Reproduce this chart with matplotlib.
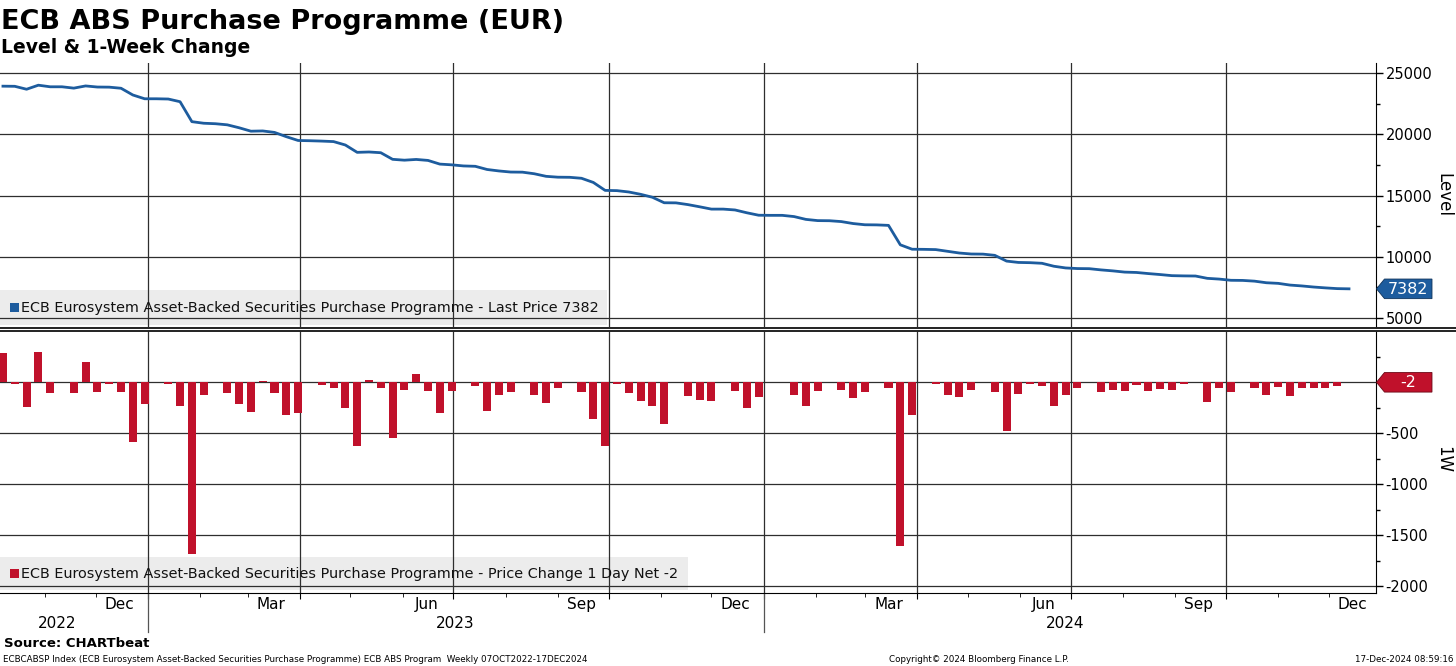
import numpy as np
import pandas as pd
import matplotlib
matplotlib.use("Agg")
import matplotlib.pyplot as plt
import matplotlib.dates as mdates
import matplotlib.transforms as mtransforms
from matplotlib.patches import Polygon, Rectangle
from matplotlib.lines import Line2D

plt.rcParams['font.family'] = ['DejaVu Sans']

# --- data (weekly, 07 Oct 2022 - Dec 2024) ---
week_dates = pd.date_range('2022-10-07', periods=115, freq='7D')

level = [
    23950, 23940, 23700, 24030, 23900, 23900, 23790, 23970, 23880, 23870,
    23780, 23230, 22920, 22920, 22900, 22680, 21050, 20920, 20880, 20790,
    20550, 20270, 20290, 20170, 19820, 19510, 19490, 19460, 19420, 19140,
    18540, 18570, 18510, 17970, 17900, 17960, 17880, 17580, 17520, 17430,
    17400, 17140, 17020, 16930, 16920, 16790, 16580, 16510, 16500, 16420,
    16080, 15430, 15410, 15300, 15110, 14870, 14420, 14410, 14270, 14090,
    13900, 13900, 13830, 13600, 13400, 13390, 13390, 13290, 13060, 12960,
    12950, 12880, 12720, 12620, 12610, 12570, 10980, 10620, 10610, 10590,
    10450, 10310, 10230, 10220, 10120, 9650, 9540, 9520, 9470, 9230,
    9090, 9040, 9030, 8930, 8850, 8750, 8720, 8630, 8550, 8460,
    8440, 8430, 8240, 8180, 8080, 8070, 8010, 7880, 7830, 7690,
    7620, 7530, 7460, 7400, 7382,
]

change = [
    286, -16, -247, 292, -110, 0, -110, 195, -94, -20,
    -100, -588, -218, 0, -16, -237, -1683, -124, 0, -107,
    -215, -296, 10, -107, -325, -306, 0, -29, -55, -253,
    -630, 20, -62, -549, -78, 81, -88, -306, -88, 0,
    -39, -283, -130, -94, 0, -130, -208, -62, 0, -94,
    -364, -630, -20, -110, -185, -237, -413, 0, -140, -179,
    -185, 0, -88, -253, -146, 0, 0, -124, -231, -88,
    0, -78, -153, -100, 0, -59, -1605, -322, 0, -16,
    -130, -146, -75, 0, -94, -481, -117, -16, -42, -237,
    -130, -55, 0, -100, -81, -88, -29, -88, -72, -81,
    -23, 0, -192, -59, -100, 0, -62, -130, -49, -140,
    -55, -55, -62, -39, -2,
]

month_labels = ['Dec', 'Mar', 'Jun', 'Sep', 'Dec', 'Mar', 'Jun', 'Sep', 'Dec']
month_label_dates = pd.to_datetime([
    '2022-12-15', '2023-03-15', '2023-06-15', '2023-09-15', '2023-12-15',
    '2024-03-15', '2024-06-15', '2024-09-15', '2024-12-15'])
year_labels = ['2022', '2023', '2024']
year_label_dates = pd.to_datetime(['2022-11-08', '2023-07-02', '2024-06-28'])
year_breaks = pd.to_datetime(['2023-01-01', '2024-01-01'])

level_ticks = [5000, 10000, 15000, 20000, 25000]
level_ticklabels = ['5000', '10000', '15000', '20000', '25000']
change_ticks = [-2000, -1500, -1000, -500, 0]
change_ticklabels = ['-2000', '-1500', '-1000', '-500', '']  # 0 sits under the last-value tag

BLUE = '#1d5c9e'
RED = '#c0112b'
GRID = '#2e2e2e'
LEGEND_BG = '#ececec'

fig = plt.figure(figsize=(14.56, 6.66), dpi=100)
ax1 = fig.add_axes([0.0, 0.50901, 0.94505, 0.39640])
ax2 = fig.add_axes([0.0, 0.10961, 0.94505, 0.39339], sharex=ax1)

x_left = pd.Timestamp('2022-10-05 06:00')
x_right = pd.Timestamp('2024-12-29 00:00')

# ----- top panel: level -----
ax1.plot(week_dates, level, color=BLUE, lw=2.0, zorder=3)
ax1.set_ylim(4262, 25845)
ax1.set_xlim(x_left, x_right)

# ----- bottom panel: 1-week change -----
ax2.bar(week_dates, change, width=4.8, color=RED, zorder=3)
ax2.set_ylim(-2065, 500)

quarters = mdates.MonthLocator(bymonth=[1, 4, 7, 10])
months = mdates.MonthLocator()

for ax, ticks, labels, minor_step in ((ax1, level_ticks, level_ticklabels, 2500),
                                      (ax2, change_ticks, change_ticklabels, 250)):
    ax.set_axisbelow(True)
    ax.yaxis.tick_right()
    ax.set_yticks(ticks)
    ax.set_yticklabels(labels)
    lo, hi = ax.get_ylim()
    ax.set_yticks(np.arange(np.ceil(lo / minor_step) * minor_step, hi, minor_step), minor=True)
    ax.tick_params(axis='y', which='major', direction='out', length=5, width=1,
                   labelsize=10.5, pad=2, colors='black')
    ax.tick_params(axis='y', which='minor', direction='out', length=3, width=1)
    ax.grid(True, axis='y', which='major', color=GRID, lw=0.9)
    ax.xaxis.set_major_locator(quarters)
    ax.xaxis.set_minor_locator(months)
    ax.grid(True, axis='x', which='major', color=GRID, lw=0.9)
    ax.spines['left'].set_visible(False)
    ax.spines['top'].set_visible(False)
    ax.spines['right'].set_color('black')

ax1.spines['bottom'].set_visible(False)
ax1.tick_params(axis='x', which='both', bottom=False, labelbottom=False)
ax2.spines['bottom'].set_color('black')
ax2.tick_params(axis='x', which='major', direction='out', length=4, labelbottom=False)
ax2.tick_params(axis='x', which='minor', direction='out', length=3)

# panel divider (double rule across the whole width)
for yf in (1 - 327.5 / 666, 1 - 330.5 / 666):
    fig.add_artist(Line2D([0, 1], [yf, yf], transform=fig.transFigure,
                          color='#222222', lw=1.4))

# month / year labels under the bottom panel
xtrans = ax2.get_xaxis_transform()
for d, lab in zip(month_label_dates, month_labels):
    ax2.text(d, -0.042, lab, transform=xtrans, ha='center', va='center', fontsize=11)
for d, lab in zip(year_label_dates, year_labels):
    ax2.text(d, -0.115, lab, transform=xtrans, ha='center', va='center', fontsize=11)
for d in year_breaks:
    ax2.plot([d, d], [0, -0.15], transform=xtrans, color='#555555', lw=0.9, clip_on=False)

# legend strips
def legend_strip(ax, x1, y0, y1, color, text):
    ax.add_patch(Rectangle((0, y0), x1, y1 - y0, transform=ax.transAxes,
                           facecolor=LEGEND_BG, edgecolor='none', zorder=0.4))
    yc = (y0 + y1) / 2
    ax.add_patch(Rectangle((0.0073, yc - 0.017), 0.0066, 0.034, transform=ax.transAxes,
                           facecolor=color, edgecolor='none', zorder=4))
    ax.text(0.0155, yc, text, transform=ax.transAxes, ha='left', va='center',
            fontsize=10.4, color='#111111', zorder=4)

legend_strip(ax1, 0.4411, 0.0076, 0.140, BLUE,
             'ECB Eurosystem Asset-Backed Securities Purchase Programme - Last Price 7382')
legend_strip(ax2, 0.500, 0.0115, 0.137, RED,
             'ECB Eurosystem Asset-Backed Securities Purchase Programme - Price Change 1 Day Net -2')

# last value tags on the right axis
def value_tag(ax, yval, text, color, edge):
    trans = fig.dpi_scale_trans + mtransforms.ScaledTranslation(1.0, yval, ax.get_yaxis_transform())
    verts = [(0.005, 0.0), (0.085, 0.098), (0.56, 0.098), (0.56, -0.098), (0.085, -0.098)]
    ax.add_patch(Polygon(verts, closed=True, transform=trans, facecolor=color,
                         edgecolor=edge, lw=0.6, clip_on=False, zorder=6))
    ax.text(0.32, -0.005, text, transform=trans, ha='center', va='center',
            color='white', fontsize=11.5, zorder=7)

value_tag(ax1, level[-1], f'{level[-1]}', BLUE, '#10335a')
value_tag(ax2, change[-1], f'{change[-1]}', RED, '#6b0a17')

# axis titles on the far right
fig.text(1443 / 1456, 1 - 195 / 666, 'Level', rotation=270, ha='center', va='center', fontsize=12)
fig.text(1443 / 1456, 1 - 460 / 666, '1W', rotation=270, ha='center', va='center', fontsize=12)

# titles and footer
fig.text(0.001, 1 - 29 / 666, 'ECB ABS Purchase Programme (EUR)', fontsize=19.5,
         fontweight='bold', ha='left', va='baseline')
fig.text(0.001, 1 - 53 / 666, 'Level & 1-Week Change', fontsize=13.5,
         fontweight='bold', ha='left', va='baseline')
fig.text(0.003, 1 - 647 / 666, 'Source: CHARTbeat', fontsize=9.5,
         fontweight='bold', ha='left', va='baseline')
fig.text(0.002, 1 - 662 / 666,
         'ECBCABSP Index (ECB Eurosystem Asset-Backed Securities Purchase Programme) ECB ABS Program  '
         'Weekly 07OCT2022-17DEC2024', fontsize=6.3, ha='left', va='baseline')
fig.text(979 / 1456, 1 - 662 / 666, 'Copyright\u00a9 2024 Bloomberg Finance L.P.',
         fontsize=6.3, ha='center', va='baseline')
fig.text(1453 / 1456, 1 - 662 / 666, '17-Dec-2024 08:59:16', fontsize=6.3,
         ha='right', va='baseline')

fig.savefig('out.png', dpi=100, facecolor='white')
